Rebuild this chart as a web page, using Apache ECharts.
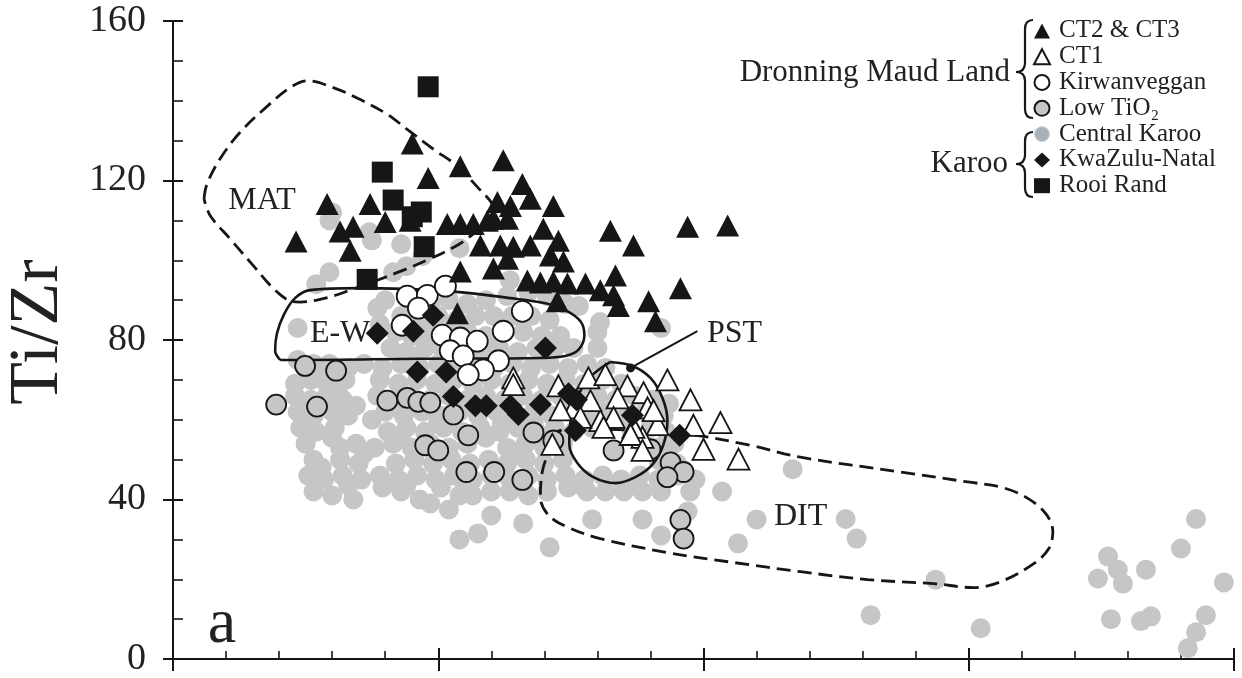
<!DOCTYPE html>
<html><head><meta charset="utf-8">
<script src="https://cdn.jsdelivr.net/npm/echarts@6/dist/echarts.min.js"></script>
<style>html,body{margin:0;padding:0;background:#fff}#c{width:1242px;height:678px}</style>
</head><body><div id="c"></div>
<script>
// ---- tick labels ----
const yTicks = [0, 40, 80, 120, 160];
// ---- series values [x, Ti/Zr] ----
const ct23 = [[46.4,104.7],[58.1,114.1],[63.0,107.2],[67.9,108.4],[66.8,102.4],[74.3,114.1],[80.0,109.6],[90.2,129.3],[96.2,120.6],[89.4,109.9],[103.4,109.1],[108.3,109.1],[113.2,109.1],[118.5,109.9],[108.3,123.6],[124.5,125.1],[122.3,114.6],[127.2,113.6],[131.7,119.1],[134.7,115.4],[143.4,113.6],[120.8,110.4],[126.1,110.4],[139.6,107.9],[145.3,104.9],[115.9,103.7],[123.4,103.7],[128.3,103.4],[134.7,103.7],[142.3,101.2],[147.2,99.7],[108.3,97.2],[120.8,97.9],[126.1,100.4],[133.6,94.9],[138.5,94.4],[143.4,94.7],[148.7,94.2],[155.5,94.2],[161.1,92.5],[166.1,91.2],[166.8,96.2],[144.9,89.7],[167.9,88.5],[179.3,89.7],[181.9,84.7],[164.9,107.4],[173.6,103.7],[194.0,108.4],[209.1,108.7],[191.3,93.0],[107.2,86.7]];
const ct1 = [[128.3,70.5],[128.3,68.8],[145.3,68.5],[156.6,70.5],[163.0,71.3],[171.3,68.5],[177.4,66.8],[186.4,70.0],[195.1,65.0],[206.4,59.3],[213.2,50.1],[200.0,52.6],[196.2,58.6],[182.7,58.8],[177.0,55.6],[173.6,58.1],[161.1,59.8],[167.6,65.5],[157.4,64.8],[151.0,63.0],[146.1,62.5],[166.1,60.6],[178.9,63.0],[172.5,56.3],[181.2,62.3],[177.0,52.3],[143.0,53.8],[162.3,58.1],[153.6,60.6]];
const kirwanveggan = [[88.3,91.0],[95.9,91.2],[102.7,93.5],[92.5,88.0],[86.4,83.7],[101.5,81.2],[108.3,80.5],[114.7,79.7],[124.5,82.2],[131.7,87.2],[104.5,77.3],[109.4,76.0],[122.7,74.8],[117.0,72.5],[111.3,71.3]];
const lowTiO2 = [[49.8,73.5],[61.5,72.3],[38.9,63.8],[54.3,63.3],[80.8,64.8],[88.3,65.5],[92.5,64.5],[97.0,64.3],[105.7,61.3],[95.1,53.6],[100.0,52.3],[111.3,56.1],[110.6,46.9],[121.1,46.9],[131.7,44.9],[135.9,56.8],[143.4,54.8],[166.1,52.3],[180.0,52.6],[187.6,49.3],[192.5,46.9],[186.4,45.6],[191.3,34.9],[192.5,30.2]];
const centralKaroo = [
 [59,110],[60,112],[74,107],[75,105],[86,104],[108,103],[94,101],[88,98.5],
 [59,97],[83,97],[54,94],[127,95],[126,91],[134,92],[141,91],[148,89],[153,88.5],
 [47,83],[77,88],[78,84],[80,90],
 [90,90],[97,89],[104,90],[111,89],[118,90],
 [86,86],[93,85],[100,86],[107,85],[114,86],[121,86],[128,86],[135,86],[142,85],
 [84,82],[90,81],[97,82],[104,81],[111,82],[118,81],[125,82],[132,82],[139,81],[146,81],
 [82,78],[88,77],[95,78],[102,77],[109,78],[116,77],[123,78],[130,77],[137,78],[144,78],[151,78],[160,78],
 [160,82],[161,84.5],[184,83],
 [47,75],[53,74],[59,74],[66,73],[72,74],[79,73],[86,74],[93,73],[100,74],[107,73],[114,74],[121,73],[128,74],[135,73],[142,74],[149,73],[156,74],[163,73],
 [46,69],[52,70],[58,69],[65,70],[78,70],[85,69],[92,70],[99,69],[106,70],[113,69],[120,70],[127,69],[134,70],[141,69],[148,70],[155,69],[162,70],[169,69],
 [46,66],[52,65],[58,66],[64,65],[77,66],[84,65],[90,66],[97,65],[104,66],[111,65],[118,66],[125,65],[132,66],[139,65],[146,66],[153,65],[160,66],[167,65],[174,66],[181,65],[187,64],
 [47,62],[53,61],[60,62],[66,61],[80,62],[87,61],[94,62],[101,61],[108,62],[115,61],[122,62],[129,61],[136,62],[143,61],[150,62],[157,61],[164,62],[171,61],[178,62],[185,61],
 [48,58],[54,57],[61,58],[81,57],[88,58],[95,57],[102,58],[109,57],[116,58],[123,57],[130,58],[137,57],[144,58],[151,57],[158,58],[173,57],[180,58],[186,57],
 [50,54],[63,53],[69,54],[76,53],[83,54],[90,53],[97,54],[104,53],[111,54],[126,53],[133,54],[140,53],[147,54],[177,54],[183,53],[189,54],
 [53,50],[63,50],[70,49],[84,49],[91,50],[98,49],[105,50],[112,49],[119,50],[126,49],[133,50],[140,49],[147,50],[183,50],[190,49],
 [51,46],[57,45],[64,46],[71,45],[78,46],[85,45],[92,46],[99,45],[106,46],[113,45],[120,46],[127,45],[134,46],[141,45],[148,46],[155,45],[162,46],[169,45],[176,46],[183,45],[190,46],[197,45],
 [53,42],[60,41],[68,40],[79,43],[86,42],[93,40],[101,43],[108,41],[113,41],[120,42],[127,42],[134,41],[141,42],[149,43],[156,42],[163,42],[170,42],[177,42],[184,42],[195,42],[207,42],
 [97,39],[104,37.5],[120,36],[132,34],[108,30],[115,31.5],[142,28],[158,35],[177,35],[184,31],[194,37],[213,29],[220,35],[233.6,47.6],
 [253.6,35.1],[257.7,30.2],[263,11],[287.5,19.9],[304.5,7.7],[352.5,25.7],[348.7,20.2],[356.2,22.4],[358.1,18.9],[366.8,22.4],[353.6,10],[364.9,9.5],[368.7,10.7],[380,27.7],[385.7,35.1],[389.4,11],[385.7,6.7],[382.6,2.7],[396.2,19.2],
 [56,71.5],[62,67.5],[69,63.5],[75,60],[88,63.5],[100,59.5],[112,63.5],[124,59.5],[136,59.5],[148,63.5],[60,55.5],[72,51.5],[86,55.5],[100,51.5],[118,55.5],[130,51.5],[66,43.5],[88,43.5],[110,43.5],[132,43.5],[154,43.5],[172,43.5],[92,75.5],[116,75.5],[140,75.5],[100,83.5],[124,83.5],[96,79.5],[120,79.5],[142,79.5],[52,59.5],[56,48]
];
const kwaZuluNatal = [[77.0,81.7],[90.6,82.2],[98.1,86.2],[140.4,78.0],[92.1,72.0],[103.0,72.0],[105.7,65.8],[114.0,63.5],[118.1,63.5],[127.2,63.5],[130.2,61.3],[138.5,63.8],[149.1,66.5],[152.1,65.0],[151.7,57.3],[173.2,61.1],[191.0,56.1]];
const rooiRand = [[96.2,143.5],[78.9,122.1],[83.0,115.1],[90.2,110.9],[93.6,112.1],[94.7,103.4],[73.2,95.2]];
// ---- field outlines ----
const matField = [[11.7,115.4],[12.8,119.1],[17.7,125.4],[25.3,132.1],[35.5,138.6],[44.2,143.3],[50.6,145.0],[60.4,143.3],[70.6,140.3],[80.8,136.6],[88.3,132.8],[98.1,127.9],[107.2,123.6],[114.7,118.4],[120.4,114.1],[121.1,111.7],[117.7,109.2],[108.3,104.2],[97.0,100.4],[85.7,97.2],[77.0,95.0],[66.8,92.5],[57.4,90.5],[47.9,89.5],[43.4,90.0],[37.7,93.0],[30.2,98.7],[21.5,105.4],[14.0,111.2],[11.7,115.4]];
const ewField = [[40.4,75.0],[38.5,77.3],[39.2,81.7],[41.9,86.5],[46.0,90.5],[51.7,92.5],[70.6,93.0],[104.5,92.2],[127.2,90.5],[140.4,89.2],[147.9,87.5],[153.6,84.7],[155.1,81.2],[152.8,77.5],[147.9,76.0],[138.5,75.5],[93.2,75.3],[47.9,75.0],[40.4,75.0]];
const pstField = [[164.9,74.5],[173.2,73.5],[180.0,70.5],[184.5,65.5],[186.4,59.8],[184.9,53.8],[180.8,48.8],[174.3,45.6],[166.8,44.1],[158.5,45.6],[152.5,49.1],[149.4,53.8],[149.8,59.3],[152.1,65.0],[156.6,70.3],[164.9,74.5]];
const ditField = [[143.4,54.8],[146.0,57.3],[161.1,57.6],[180.0,57.1],[195.1,56.3],[217.7,53.6],[236.6,50.6],[274.3,46.9],[299.6,44.4],[312.1,43.1],[321.5,40.6],[329.1,36.4],[331.7,31.9],[330.2,27.7],[324.5,23.9],[312.1,19.4],[301.9,17.9],[286.8,18.9],[261.9,19.9],[236.6,21.9],[211.3,24.2],[186.4,26.7],[161.1,30.2],[148.7,33.1],[141.5,36.1],[138.5,40.6],[139.2,46.9],[141.5,51.8],[143.4,54.8]];
const pstPointer = [[172.5,73.0],[197.7,82.2]];
const fieldLabels = [['MAT',33.6,114.9],['E-W',63,81.5],['PST',211.7,81.7],['DIT',236.6,35.6]];
const panelLabel = ['a',18.5,8.5];

const SERIF = 'Liberation Serif';
const INK = '#161616';
const GREY = '#c4c6c8';

function outline(data, dashed) {
  return {type:'line', data, smooth:0.35, symbol:'none', silent:true, z:3,
    lineStyle:{color:INK, width: dashed ? 2.8 : 2.6, type: dashed ? [14,7] : 'solid', opacity:1}};
}
// curly brace built from graphic primitives (layout only)
function brace(x, top, mid, bottom) {
  const s = {fill:'none', stroke:INK, lineWidth:2.2};
  const xs = x - 8, xt = x - 17, r = 9;
  return [
    {type:'bezierCurve', shape:{x1:x, y1:top, cpx1:xs, cpy1:top, x2:xs, y2:top + r}, style:s},
    {type:'line', shape:{x1:xs, y1:top + r, x2:xs, y2:mid - r}, style:s},
    {type:'bezierCurve', shape:{x1:xs, y1:mid - r, cpx1:xs, cpy1:mid, x2:xt, y2:mid}, style:s},
    {type:'bezierCurve', shape:{x1:xt, y1:mid, cpx1:xs, cpy1:mid, x2:xs, y2:mid + r}, style:s},
    {type:'line', shape:{x1:xs, y1:mid + r, x2:xs, y2:bottom - r}, style:s},
    {type:'bezierCurve', shape:{x1:xs, y1:bottom - r, cpx1:xs, cpy1:bottom, x2:x, y2:bottom}, style:s}
  ];
}

const chart = echarts.init(document.getElementById('c'), null, {renderer:'canvas'});
const option = {
  animation:false,
  backgroundColor:'#fff',
  grid:{left:173, right:8, top:21, bottom:15},
  xAxis:[
    {type:'value', min:0, max:400, interval:100,
     axisLine:{show:true, lineStyle:{color:INK, width:2}},
     axisTick:{show:true, inside:true, length:11, lineStyle:{color:INK, width:2}},
     minorTick:{show:true, splitNumber:5, length:8, lineStyle:{color:INK, width:1.6}},
     axisLabel:{show:false}, splitLine:{show:false}},
    {type:'value', min:0, max:400, interval:100, position:'bottom',
     axisLine:{show:false},
     axisTick:{show:true, inside:false, length:12, lineStyle:{color:INK, width:2}},
     axisLabel:{show:false}, splitLine:{show:false}}
  ],
  yAxis:[
    {type:'value', min:yTicks[0], max:yTicks[yTicks.length-1], interval:40, position:'left',
     axisLine:{show:true, lineStyle:{color:INK, width:2}},
     axisTick:{show:true, inside:true, length:10, lineStyle:{color:INK, width:2}},
     minorTick:{show:true, splitNumber:4, length:10, lineStyle:{color:INK, width:1.6}},
     axisLabel:{margin:27, fontFamily:SERIF, fontSize:38, color:'#222'},
     splitLine:{show:false}},
    {type:'value', min:yTicks[0], max:yTicks[yTicks.length-1], interval:40, position:'left', offset:0,
     axisLine:{show:false},
     axisTick:{show:true, inside:false, length:10, lineStyle:{color:INK, width:2}},
     axisLabel:{show:false}, splitLine:{show:false}}
  ],
  legend:{
    orient:'vertical', left:1033, top:18, padding:0, itemGap:0,
    itemWidth:16, itemHeight:15, selectedMode:false,
    textStyle:{fontFamily:SERIF, fontSize:25, color:'#222', lineHeight:25.8, padding:[0,0,0,4]},
    data:['CT2 & CT3','CT1','Kirwanveggan','Low TiO₂',
      {name:'Central Karoo', itemStyle:{color:'#a9b1b9', borderColor:'#cfd3d6', borderWidth:1}},
      'KwaZulu-Natal','Rooi Rand']
  },
  graphic:[
    {type:'text', x:39, y:332, rotation:Math.PI/2,
     style:{text:'Ti/Zr', fontFamily:SERIF, fontSize:70, fill:'#222', textAlign:'center', textVerticalAlign:'middle'}},
    {type:'text', x:1010, y:73,
     style:{text:'Dronning Maud Land', fontFamily:SERIF, fontSize:31, fill:'#222', textAlign:'right', textVerticalAlign:'middle'}},
    {type:'text', x:1008, y:164,
     style:{text:'Karoo', fontFamily:SERIF, fontSize:31, fill:'#222', textAlign:'right', textVerticalAlign:'middle'}}
  ].concat(brace(1033, 20, 72, 118), brace(1033, 132, 164, 197)),
  series:[
    {name:'Central Karoo', type:'scatter', data:centralKaroo, symbol:'circle', symbolSize:20,
     itemStyle:{color:GREY, opacity:1}, z:2, silent:true},
    outline(matField, true),
    outline(ewField, false),
    outline(pstField, false),
    outline(ditField, true),
    {name:'Low TiO₂', type:'scatter', data:lowTiO2, symbol:'circle', symbolSize:20,
     itemStyle:{color:GREY, borderColor:INK, borderWidth:1.8, opacity:1}, z:4},
    {name:'Kirwanveggan', type:'scatter', data:kirwanveggan, symbol:'circle', symbolSize:21,
     itemStyle:{color:'#fff', borderColor:INK, borderWidth:1.8, opacity:1}, z:4},
    {name:'CT1', type:'scatter', data:ct1, symbol:'triangle', symbolSize:[22,21],
     itemStyle:{color:'#fff', borderColor:INK, borderWidth:1.8, opacity:1}, z:4},
    {name:'KwaZulu-Natal', type:'scatter', data:kwaZuluNatal, symbol:'diamond', symbolSize:23,
     itemStyle:{color:INK, opacity:1}, z:4},
    {name:'CT2 & CT3', type:'scatter', data:ct23, symbol:'triangle', symbolSize:[23,22],
     itemStyle:{color:INK, opacity:1}, z:4},
    {name:'Rooi Rand', type:'scatter', data:rooiRand, symbol:'rect', symbolSize:21,
     itemStyle:{color:INK, opacity:1}, z:4},
    {type:'line', silent:true, z:5, showSymbol:true,
     data:[{value:pstPointer[0], symbol:'circle', symbolSize:9}, {value:pstPointer[1], symbol:'none'}],
     itemStyle:{color:INK, opacity:1}, lineStyle:{color:INK, width:2}},
    {type:'scatter', silent:true, z:6, symbolSize:0, itemStyle:{color:'rgba(0,0,0,0)', opacity:1},
     data: fieldLabels.map(l => ({name:l[0], value:[l[1], l[2]]}))
       .concat([{name:panelLabel[0], value:[panelLabel[1], panelLabel[2]], label:{fontSize:64}}]),
     label:{show:true, position:'inside', formatter:'{b}', fontFamily:SERIF, fontSize:32, color:'#222', opacity:1}}
  ]
};
chart.setOption(option);
</script>
</body></html>
